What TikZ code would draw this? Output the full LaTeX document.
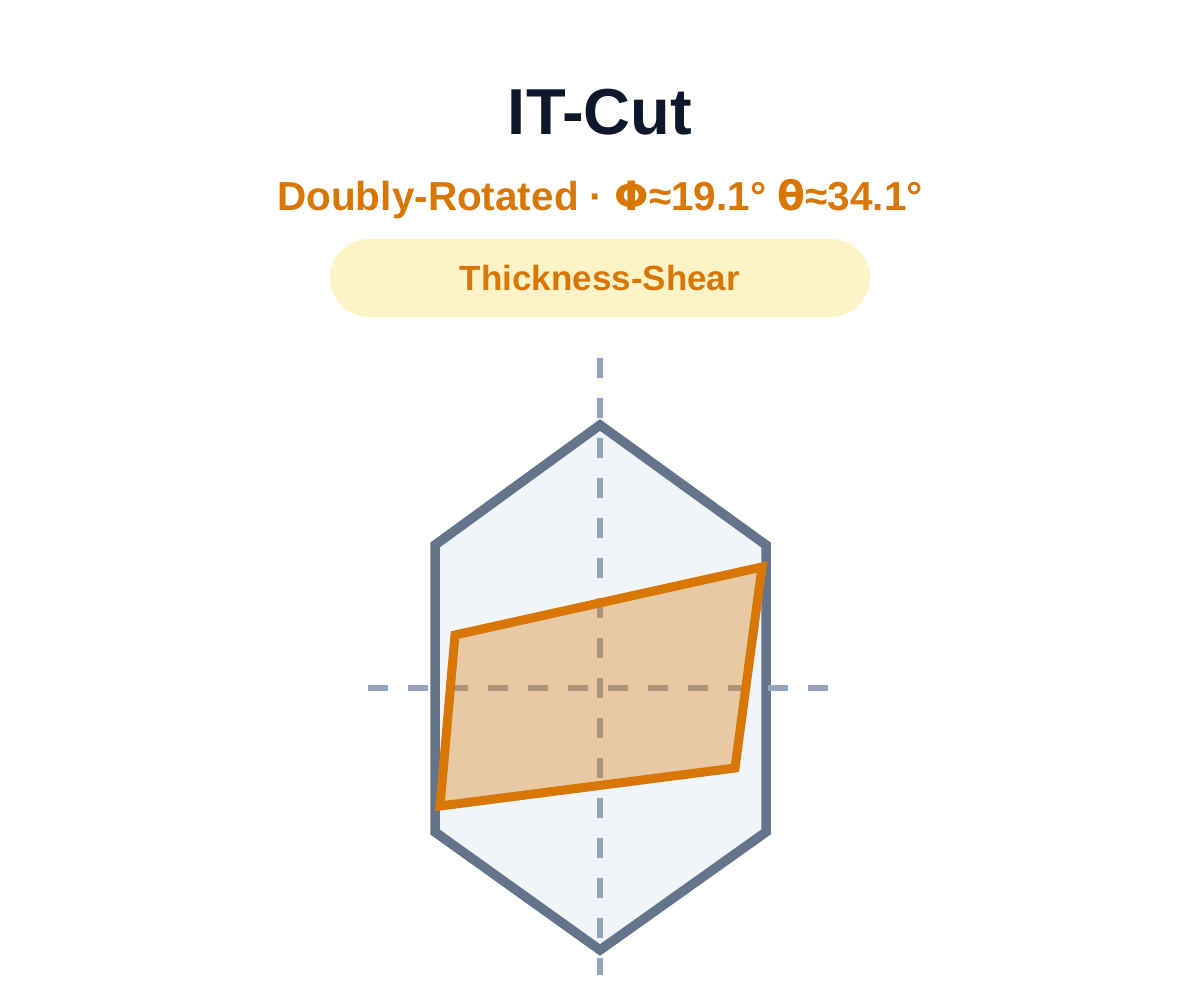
\documentclass[tikz,border=0pt]{standalone}
\usepackage{fontspec}
\setmainfont{Liberation Sans}
\newfontfamily\symfont{DejaVu Sans}
\usetikzlibrary{positioning}
\definecolor{ink}{HTML}{0F172A}
\definecolor{amber}{HTML}{D97706}
\definecolor{pillbg}{HTML}{FEF3C7}
\definecolor{slate}{HTML}{64748B}
\definecolor{slatebg}{HTML}{F1F5F9}
\definecolor{axisgray}{HTML}{94A3B8}
\newcommand{\sym}[1]{{\symfont\bfseries #1}}
\tikzstyle{title} = [anchor=base, text=ink, font=\fontsize{65}{70}\selectfont\bfseries]
\tikzstyle{subtitle} = [anchor=base, text=amber, font=\fontsize{40.5}{44}\selectfont\bfseries]
\tikzstyle{pill} = [rectangle, rounded corners=39pt, minimum width=540pt, minimum height=78pt, fill=pillbg, text=amber, font=\fontsize{35}{38}\selectfont\bfseries, text centered]
\tikzstyle{crystal} = [draw=slate, fill=slatebg, line width=9.5pt, line join=miter]
\tikzstyle{axis} = [axisgray, line width=6pt, dash pattern=on 20pt off 20pt]
\tikzstyle{cutplane} = [draw=amber, fill=amber, fill opacity=0.35, draw opacity=1, line width=9pt, line join=miter]

\begin{document}
\begin{tikzpicture}[x=1pt, y=-1pt]
    \useasboundingbox (0,0) rectangle (1200,990);

    \node (head) [title] at (600,135) {IT-Cut};
    \node (angles) [subtitle] at (600,210) {Doubly-Rotated · \sym{Φ}≈19.1° \sym{θ}≈34.1°};
    \node (mode) [pill] at (600,278) {Thickness-Shear};

    % quartz bar outline
    \draw [crystal] (600,425) -- (766,545) -- (766,832) -- (600,950)
        -- (435,832) -- (435,545) -- cycle;

    % crystal axes
    \coordinate (ztop) at (600,358);
    \coordinate (zbot) at (600,975);
    \coordinate (xleft) at (368,688);
    \coordinate (xright) at (828,688);
    \draw [axis] (ztop) -- (zbot);
    \draw [axis] (xleft) -- (xright);

    % cut plane
    \draw [cutplane] (455,635) -- (762,567) -- (735,768) -- (440,806) -- cycle;

\end{tikzpicture}
\end{document}
